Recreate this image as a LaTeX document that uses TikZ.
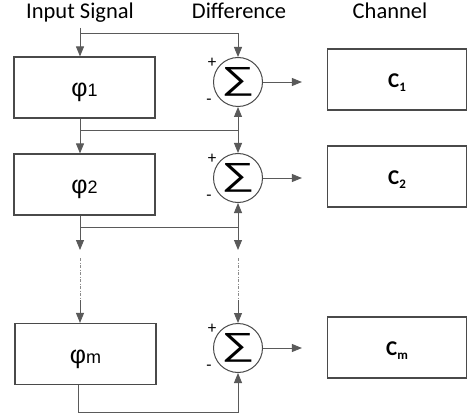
\documentclass[tikz,border=0pt]{standalone}
\usepackage{fontspec}
\setmainfont{Carlito}
\newfontfamily\arialfont{Liberation Sans}
\usetikzlibrary{arrows.meta}
\definecolor{linegray}{HTML}{5A5A5A}
\definecolor{boxgray}{HTML}{4A4A4A}
\tikzset{
  head/.style={anchor=base,font=\fontsize{22.5}{22.5}\selectfont},
  phibox/.style={draw=boxgray,line width=1.2pt,minimum width=141pt,minimum height=61pt,inner sep=0pt,
    text height=18pt,text depth=0pt,font=\arialfont\fontsize{25}{25}\selectfont},
  chbox/.style={draw=boxgray,line width=1.2pt,minimum width=139pt,minimum height=61pt,inner sep=0pt,
    text height=16pt,text depth=0pt,font=\bfseries\fontsize{21}{21}\selectfont},
  sumnode/.style={draw=boxgray,line width=1pt,circle,minimum size=49pt,inner sep=0pt,
    font=\arialfont\fontsize{32}{32}\selectfont},
  sign/.style={inner sep=0pt,font=\fontsize{17}{17}\selectfont},
  sig/.style={draw=linegray,line width=0.9pt},
  dots/.style={draw=linegray!70,line width=0.8pt,dash pattern=on 3pt off 1.5pt on 1pt off 1.5pt},
}
\newcommand{\phisub}[1]{φ{\fontsize{18}{18}\selectfont #1}}
\newcommand{\chsub}[1]{C\raisebox{-4pt}{\fontsize{13}{13}\selectfont #1}}
\newcommand{\sumsign}{\scalebox{1.45}[1]{∑}}

\begin{document}
\begin{tikzpicture}[x=1pt,y=-1pt,>={Triangle[length=10pt,width=8pt]}]
  \useasboundingbox (0,0) rectangle (468,414);
  % Ueberschriften
  \node[head] (hin) at (80,19) {Input Signal};
  \node[head] (hdiff) at (239,19) {Difference};
  \node[head] (hch) at (390,19) {Channel};
  % Filterstufen
  \node[phibox] (phi1) at (84.5,87.5) {\phisub{1}};
  \node[phibox] (phi2) at (84.5,184.5) {\phisub{2}};
  \node[phibox] (phim) at (85.5,354) {\phisub{m}};
  % Summierer
  \node[sumnode] (s1) at (238,82) {\sumsign};
  \node[sumnode] (s2) at (238,178) {\sumsign};
  \node[sumnode] (sm) at (238,348) {\sumsign};
  \foreach \i in {1,2,m} {
    \node[sign] (p\i) at ([shift={(-26,-19)}]s\i.center) {+};
    \node[sign] (n\i) at ([shift={(-29,20)}]s\i.center) {-};
  }
  % Kanaele
  \node[chbox] (c1) at (397,79.5) {\chsub{1}};
  \node[chbox] (c2) at (397,176.5) {\chsub{2}};
  \node[chbox] (cm) at (397,347.5) {\chsub{m}};
  % Hilfspunkte
  \coordinate (in) at (80,28);
  \coordinate (ina) at (80,33);
  \coordinate (j1) at (80,130);
  \coordinate (k1) at (238,130);
  \coordinate (j2) at (80,227);
  \coordinate (k2) at (238,227);
  \coordinate (d1) at (80,250);
  \coordinate (d2) at (238,250);
  \coordinate (e1) at (80,258);
  \coordinate (e2) at (238,258);
  \coordinate (f1) at (80,300);
  \coordinate (f2) at (238,300);
  \coordinate (b1) at (78,412);
  \coordinate (b2) at (238,412);
  % Eingang
  \draw[sig,->] (in) -- (in |- phi1.north);
  \draw[sig,->] (ina) -| (s1.north);
  % Stufe 1
  \draw[sig] (phi1.south -| j1) -- (j1) -- (k1);
  \draw[sig,->] (j1) -- (j1 |- phi2.north);
  \draw[sig,->] (k1) -- (s1.south);
  \draw[sig,->] (k1) -- (s2.north);
  % Stufe 2
  \draw[sig] (phi2.south -| j2) -- (j2) -- (k2);
  \draw[sig,->] (k2) -- (s2.south);
  \draw[sig,->] (j2) -- (d1);
  \draw[sig,->] (k2) -- (d2);
  % Auslassung
  \draw[dots] (e1) -- (f1);
  \draw[dots] (e2) -- (f2);
  \draw[sig,->] (f1) -- (f1 |- phim.north);
  \draw[sig,->] (f2) -- (sm.north);
  % letzte Stufe
  \draw[sig,->] (phim.south -| b1) -- (b1) -- (b2) -- (sm.south);
  % Ausgaenge
  \foreach \i in {1,2,m}
    \draw[sig,->] (s\i.east) -- ([xshift=-25pt]s\i.east -| c\i.west);
\end{tikzpicture}
\end{document}
